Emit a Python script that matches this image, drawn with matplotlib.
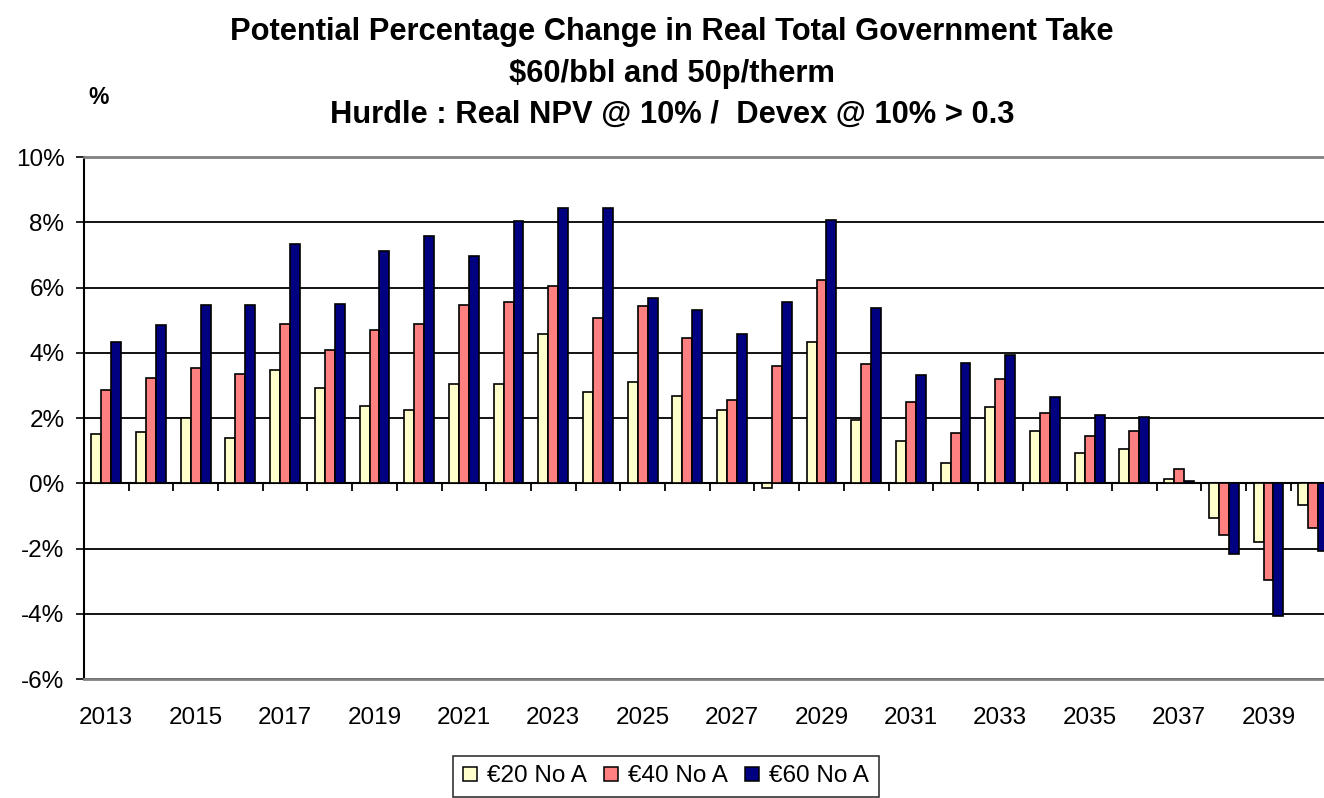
import matplotlib
matplotlib.use('Agg')
import matplotlib.pyplot as plt
from matplotlib.lines import Line2D
import numpy as np

plt.rcParams['font.family'] = ['Liberation Sans', 'DejaVu Sans']

years = list(range(2013, 2041))
eur20 = [1.52, 1.56, 2.00, 1.39, 3.48, 2.93, 2.37, 2.25, 3.05, 3.05, 4.58, 2.80, 3.11, 2.68,
         2.25, -0.13, 4.34, 1.94, 1.29, 0.62, 2.33, 1.61, 0.93, 1.05, 0.13, -1.05, -1.79, -0.67]
eur40 = [2.86, 3.23, 3.54, 3.36, 4.89, 4.09, 4.70, 4.89, 5.45, 5.56, 6.05, 5.07, 5.44, 4.46,
         2.56, 3.60, 6.24, 3.66, 2.48, 1.55, 3.19, 2.15, 1.46, 1.61, 0.43, -1.59, -2.95, -1.36]
eur60 = [4.34, 4.84, 5.45, 5.45, 7.34, 5.50, 7.12, 7.59, 6.98, 8.03, 8.45, 8.45, 5.69, 5.32,
         4.58, 5.56, 8.08, 5.38, 3.32, 3.70, 3.92, 2.65, 2.09, 2.02, 0.06, -2.17, -4.07, -2.09]
series_names = ['€20 No A', '€40 No A', '€60 No A']
colors = ['#FFFFCC', '#FF8080', '#000080']
title_lines = ['Potential Percentage Change in Real Total Government Take',
               '$60/bbl and 50p/therm',
               'Hurdle : Real NPV @ 10% /  Devex @ 10% > 0.3']

fig = plt.figure(figsize=(13.24, 7.98), dpi=100)
fig.patch.set_facecolor('white')
# axes runs off the right edge, like the cropped original
ax = fig.add_axes([0.0634, 0.1491, 0.9453, 0.6541])

x = np.arange(len(years))
w = 1 / 4.5
for i, (vals, col) in enumerate(zip([eur20, eur40, eur60], colors)):
    ax.bar(x + (i - 1) * w, vals, width=w, color=col, edgecolor='black',
           linewidth=1.2, zorder=3)

ax.set_xlim(-0.5, len(years) - 0.5)
ax.set_ylim(-6, 10)
ax.set_yticks(np.arange(-6, 11, 2))
ax.set_yticklabels([f'{v}%' for v in range(-6, 11, 2)])
ax.yaxis.grid(True, color='black', linewidth=1.3, zorder=0)
ax.tick_params(axis='y', direction='out', length=6, width=1.2, pad=8,
               labelsize=17.5, color='black')

# year labels under the plot, every other year
ax.set_xticks(x[::2])
ax.set_xticklabels([str(y) for y in years[::2]])
ax.tick_params(axis='x', length=0, pad=20, labelsize=17.5)

for s in ['top', 'bottom']:
    ax.spines[s].set_color('#808080')
    ax.spines[s].set_linewidth(2)
ax.spines['left'].set_color('black')
ax.spines['left'].set_linewidth(1.5)
ax.spines['right'].set_visible(False)

# category axis at zero
zx = ax.secondary_xaxis(0, transform=ax.transData)
zx.set_xticks(np.append(x - 0.5, x[-1] + 0.5))
zx.set_xticklabels([])
zx.tick_params(direction='out', length=6, width=1.3, color='black')
zx.spines['bottom'].set_color('black')
zx.spines['bottom'].set_linewidth(1.5)

for yy, line in zip([0.9499, 0.8972, 0.8459], title_lines):
    fig.text(0.5076, yy, line, ha='center', va='baseline', fontsize=22.2,
             fontweight='bold')
fig.text(0.0745, 0.878, '%', ha='center', va='center', fontsize=16.5, fontweight='bold')

handles = [Line2D([], [], marker='s', linestyle='none', markersize=9.5,
                  markerfacecolor=c, markeredgecolor='black', markeredgewidth=1.1)
           for c in colors]
leg = fig.legend(handles, series_names, loc='upper center', ncol=3,
                 bbox_to_anchor=(0.503, 0.053), fontsize=17.5, frameon=True,
                 fancybox=False, edgecolor='black', handlelength=0.6,
                 handletextpad=0.4, columnspacing=0.7, borderpad=0.4,
                 borderaxespad=0)
leg.get_frame().set_linewidth(1.2)

fig.savefig('out.png', dpi=100, facecolor='white')
